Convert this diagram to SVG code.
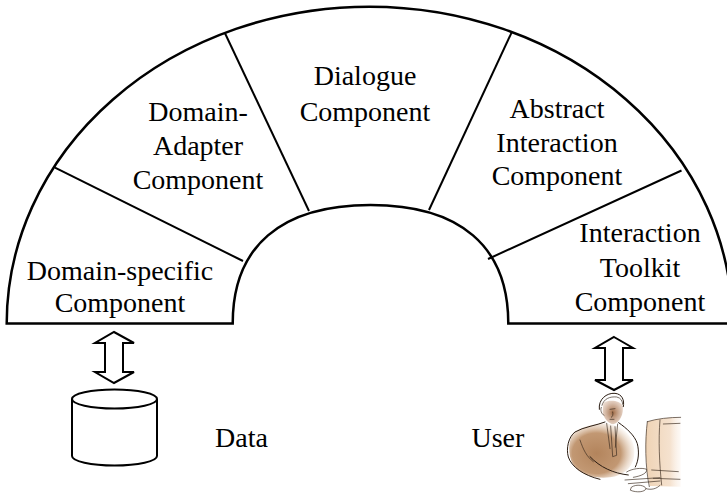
<svg xmlns="http://www.w3.org/2000/svg" width="727" height="495" viewBox="0 0 727 495">
  <style>
    text { font-family: 'Liberation Serif', 'Times New Roman', serif; font-size: 28px; fill: #000; }
    .lbl { text-anchor: middle; }
    .outline { fill: #fff; stroke: #000; stroke-width: 2.5; stroke-linejoin: miter; }
    .divider { stroke: #000; stroke-width: 2; fill: none; }
    .hollow { fill: #fff; stroke: #000; stroke-width: 2; stroke-linejoin: miter; }
    .ink { fill: none; stroke: #2a1c12; stroke-width: 3; stroke-linecap: round; stroke-linejoin: round; }
    .inkfine { fill: none; stroke: #3a2a1e; stroke-width: 2; stroke-linecap: round; stroke-linejoin: round; }
  </style>
  <defs>
    <radialGradient id="suit" cx="0.42" cy="0.55" r="0.62">
      <stop offset="0" stop-color="#b3845c"/>
      <stop offset="0.6" stop-color="#c29873"/>
      <stop offset="1" stop-color="#e2c6aa" stop-opacity="0"/>
    </radialGradient>
    <radialGradient id="skin" cx="0.5" cy="0.5" r="0.6">
      <stop offset="0" stop-color="#a06c46"/>
      <stop offset="1" stop-color="#c49676" stop-opacity="0.3"/>
    </radialGradient>
    <linearGradient id="screen" x1="0" y1="0" x2="1" y2="0">
      <stop offset="0" stop-color="#efd3b5"/>
      <stop offset="0.7" stop-color="#f5e2cf"/>
      <stop offset="1" stop-color="#fbf1e8" stop-opacity="0.4"/>
    </linearGradient>
  </defs>

  <!-- arch body: outer elliptical arc, inner arch opening, base line -->
  <g id="arch">
    <path class="outline" d="M6.7,323.5 A362.8,316.8 0 0 1 732.3,323.5 L508.3,323.5 C508.3,246.5 460.1,205 370.5,205 C280.9,205 232.7,246.5 232.7,323.5 Z"/>
  </g>

  <!-- segment boundaries between the components, and the two exchange arrows -->
  <g id="connectors">
    <line class="divider" x1="55" y1="167.7" x2="243" y2="261"/>
    <line class="divider" x1="225" y1="33.3" x2="309" y2="211"/>
    <line class="divider" x1="511.7" y1="32.3" x2="429" y2="210"/>
    <line class="divider" x1="681.5" y1="170.5" x2="488" y2="259"/>
    <polygon class="hollow" points="114,332 134,343 123,343 123,372 134,372 114,383 95,372 105,372 105,343 95,343"/>
    <polygon class="hollow" points="614,337 633,348 623,348 623,380 633,380 614,390 595,380 605,380 605,348 595,348"/>
  </g>

  <g id="domain-specific">
    <text class="lbl" x="120" y="280">Domain-specific</text>
    <text class="lbl" x="120" y="312">Component</text>
  </g>
  <g id="domain-adapter">
    <text class="lbl" x="198" y="121">Domain-</text>
    <text class="lbl" x="198" y="155">Adapter</text>
    <text class="lbl" x="198" y="189">Component</text>
  </g>
  <g id="dialogue">
    <text class="lbl" x="365" y="85">Dialogue</text>
    <text class="lbl" x="365" y="121">Component</text>
  </g>
  <g id="abstract-interaction">
    <text class="lbl" x="557" y="118">Abstract</text>
    <text class="lbl" x="557" y="152">Interaction</text>
    <text class="lbl" x="557" y="185">Component</text>
  </g>
  <g id="interaction-toolkit">
    <text class="lbl" x="640" y="242">Interaction</text>
    <text class="lbl" x="640" y="277">Toolkit</text>
    <text class="lbl" x="640" y="311">Component</text>
  </g>

  <!-- data store -->
  <g id="data">
    <path class="hollow" d="M72,399 L72,456 A42.5,9.5 0 0 0 157,456 L157,399"/>
    <ellipse class="hollow" cx="114.5" cy="399" rx="42.5" ry="9.5"/>
    <text x="215" y="447">Data</text>
  </g>

  <!-- user at a workstation -->
  <g id="user">
    <text x="471.5" y="447">User</text>
    <g transform="translate(560 390) scale(0.3333)">
      <path d="M262,95 C290,86 330,82 362,80 L362,290 L270,288 C258,240 252,160 262,95 Z" fill="url(#screen)"/>
      <path d="M40,130 C60,110 110,100 140,100 L180,110 C210,130 228,160 222,200 C216,235 190,256 150,262 C110,268 60,255 40,225 C22,195 25,150 40,130 Z" fill="url(#suit)"/>
      <path d="M130,38 C150,28 180,32 188,47 C192,72 180,96 160,103 C145,101 132,86 128,66 Z" fill="url(#skin)"/>
      <path class="ink" d="M118,58 C114,28 140,8 165,10 C186,12 194,30 190,50"/>
      <path class="inkfine" d="M126,46 C131,26 150,19 170,21 C182,23 188,33 188,43"/>
      <path class="inkfine" d="M124,52 C120,60 124,72 132,76 M150,58 L165,56 M158,66 C160,74 158,80 154,82 M150,88 L162,88"/>
      <path class="ink" d="M135,96 C110,106 70,111 45,126 C25,141 18,176 25,201 C35,231 70,256 120,268"/>
      <path class="ink" d="M176,98 C200,115 224,136 232,161 C238,186 236,211 226,231"/>
      <path class="inkfine" d="M152,108 L158,200 L170,196 L165,110 M140,100 L150,176 M173,102 L166,172 M60,150 C70,180 80,200 100,215"/>
      <path class="ink" d="M90,200 C120,232 160,250 205,255"/>
      <path class="inkfine" d="M200,246 C215,236 245,232 260,238 C262,249 245,258 220,262"/>
      <path class="inkfine" d="M262,95 C255,150 255,230 268,290 M262,95 C290,86 330,82 362,82 M300,90 C295,150 298,220 305,285 M310,102 L360,100 M275,240 L355,245 M280,265 L360,268"/>
      <path class="inkfine" d="M195,270 L300,263 M205,281 L300,273"/>
      <path class="inkfine" d="M215,291 C230,281 255,286 258,296 C255,306 230,309 212,301 Z M258,296 C275,301 290,296 300,286"/>
    </g>
  </g>
</svg>
